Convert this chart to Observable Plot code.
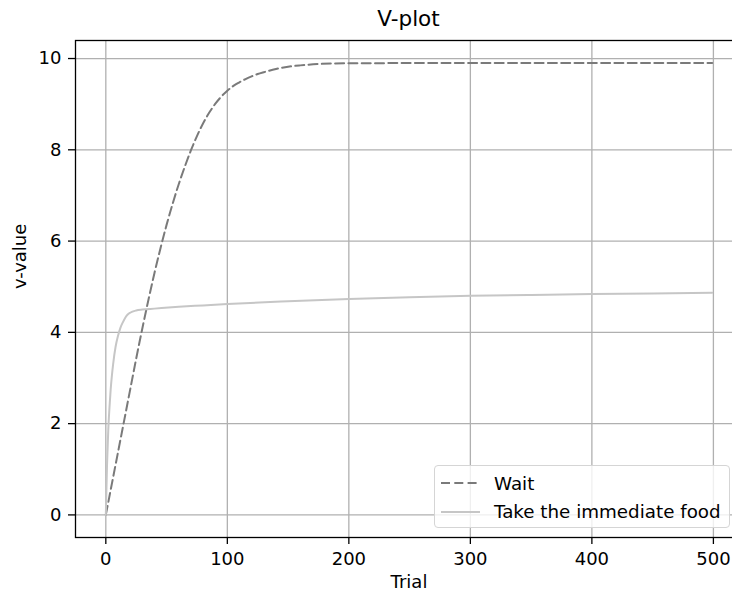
<!DOCTYPE html>
<html>
<head>
<meta charset="utf-8">
<script src="https://cdn.jsdelivr.net/npm/d3@7"></script>
<script src="https://cdn.jsdelivr.net/npm/@observablehq/plot@0.6"></script>
<style>
  html, body { margin: 0; padding: 0; background: #fff; overflow: hidden; }
  #wrap { position: relative; width: 732px; height: 596px; overflow: hidden; font-family: "DejaVu Sans", sans-serif; }
  #chart svg { max-width: none !important; }
  #title { position: absolute; left: 75px; width: 667px; top: 6px; text-align: center; font-size: 21.5px; color: #000; }
  #legend { position: absolute; left: 434px; top: 465px; width: 296px; height: 63px; box-sizing: border-box;
            border: 1px solid #d5d5d5; border-radius: 4px; background: rgba(255,255,255,0.8); }
  .row { position: absolute; left: 0; height: 24px; display: flex; align-items: center; font-size: 18.3px; color: #000; white-space: nowrap; }
  .row svg { margin-left: 6px; margin-right: 14px; }
</style>
</head>
<body>
<div id="wrap">
  <div id="chart"></div>
  <div id="title">V-plot</div>
  <div id="legend"></div>
</div>
<script>
// Series: "Wait"
const waitTrial = [0, 5, 10, 15, 20, 25, 30, 35, 40, 45, 50, 55, 60, 65, 70, 75, 80, 85, 90, 95, 100, 105, 110, 115, 120, 125, 130, 140, 150, 160, 175, 200, 250, 300, 400, 499];
const waitV     = [0, 0.685, 1.37, 2.055, 2.74, 3.425, 4.08, 4.705, 5.295, 5.845, 6.355, 6.82, 7.245, 7.63, 7.985, 8.3, 8.575, 8.81, 9.005, 9.165, 9.295, 9.4, 9.48, 9.55, 9.61, 9.66, 9.7, 9.77, 9.82, 9.85, 9.88, 9.895, 9.9, 9.9, 9.9, 9.9];
// Series: "Take the immediate food"
const foodTrial = [0, 1, 2, 3, 4, 5, 6, 8, 10, 12, 14, 16, 18, 20, 25, 30, 40, 60, 80, 100, 150, 200, 250, 300, 350, 400, 450, 499];
const foodV     = [0, 1.1, 1.85, 2.35, 2.75, 3.05, 3.3, 3.68, 3.92, 4.1, 4.22, 4.32, 4.39, 4.43, 4.48, 4.5, 4.52, 4.56, 4.59, 4.62, 4.68, 4.73, 4.77, 4.8, 4.82, 4.84, 4.85, 4.87];

const seriesNames = ["Wait", "Take the immediate food"];
const xTicks = [0, 100, 200, 300, 400, 500];
const yTicks = [0, 2, 4, 6, 8, 10];
const xLabel = "Trial";
const yLabel = "v-value";

const waitRows = waitTrial.map((t, i) => ({trial: t, v: waitV[i]}));
const foodRows = foodTrial.map((t, i) => ({trial: t, v: foodV[i]}));

// matplotlib-style 5% margins
const allX = waitTrial.concat(foodTrial), allY = waitV.concat(foodV);
const [x0, x1] = d3.extent(allX), [y0, y1] = d3.extent(allY);
const xPad = (x1 - x0) * 0.05, yPad = (y1 - y0) * 0.05;

const waitColor = "#7a7a7a", foodColor = "#c6c6c6";

const chart = Plot.plot({
  width: 742,
  height: 596,
  marginLeft: 75,
  marginRight: 0,
  marginTop: 40,
  marginBottom: 59,
  style: {fontFamily: "DejaVu Sans, sans-serif", fontSize: "18px", color: "#000", background: "#fff", maxWidth: "none"},
  x: {domain: [x0 - xPad, x1 + xPad]},
  y: {domain: [y0 - yPad, y1 + yPad]},
  marks: [
    Plot.gridX(xTicks, {stroke: "#b0b0b0", strokeOpacity: 1, strokeWidth: 1.3}),
    Plot.gridY(yTicks, {stroke: "#b0b0b0", strokeOpacity: 1, strokeWidth: 1.3}),
    Plot.line(waitRows, {x: "trial", y: "v", stroke: waitColor, strokeWidth: 2, strokeDasharray: "9,4.3", curve: "monotone-x"}),
    Plot.line(foodRows, {x: "trial", y: "v", stroke: foodColor, strokeWidth: 2, curve: "monotone-x"}),
    Plot.frame({stroke: "#000", strokeWidth: 1.3}),
    Plot.axisX(xTicks, {tickSize: 7, tickPadding: 8, label: null, fontSize: 18, stroke: "#000", strokeWidth: 1.3}),
    Plot.axisY(yTicks, {tickSize: 7, tickPadding: 7, label: null, fontSize: 18, stroke: "#000", strokeWidth: 1.3}),
    Plot.text([xLabel], {frameAnchor: "bottom", dy: 50, fontSize: 18, text: d => d}),
    Plot.text([yLabel], {frameAnchor: "left", dx: -55, rotate: -90, fontSize: 18, text: d => d})
  ]
});
chart.style.maxWidth = "none";
chart.style.width = "742px";
chart.style.height = "596px";
document.getElementById("chart").appendChild(chart);

// Legend (real text)
const legend = document.getElementById("legend");
const styles = [{color: waitColor, dash: "9,4.3"}, {color: foodColor, dash: null}];
seriesNames.forEach((name, i) => {
  const row = document.createElement("div");
  row.className = "row";
  row.style.top = (5 + i * 28.5) + "px";
  const ns = "http://www.w3.org/2000/svg";
  const svg = document.createElementNS(ns, "svg");
  svg.setAttribute("width", 39); svg.setAttribute("height", 10);
  const ln = document.createElementNS(ns, "line");
  ln.setAttribute("x1", 0); ln.setAttribute("x2", 39); ln.setAttribute("y1", 5); ln.setAttribute("y2", 5);
  ln.setAttribute("stroke", styles[i].color); ln.setAttribute("stroke-width", 2);
  if (styles[i].dash) ln.setAttribute("stroke-dasharray", styles[i].dash);
  svg.appendChild(ln);
  const span = document.createElement("span");
  span.textContent = name;
  row.appendChild(svg); row.appendChild(span);
  legend.appendChild(row);
});
</script>
</body>
</html>
